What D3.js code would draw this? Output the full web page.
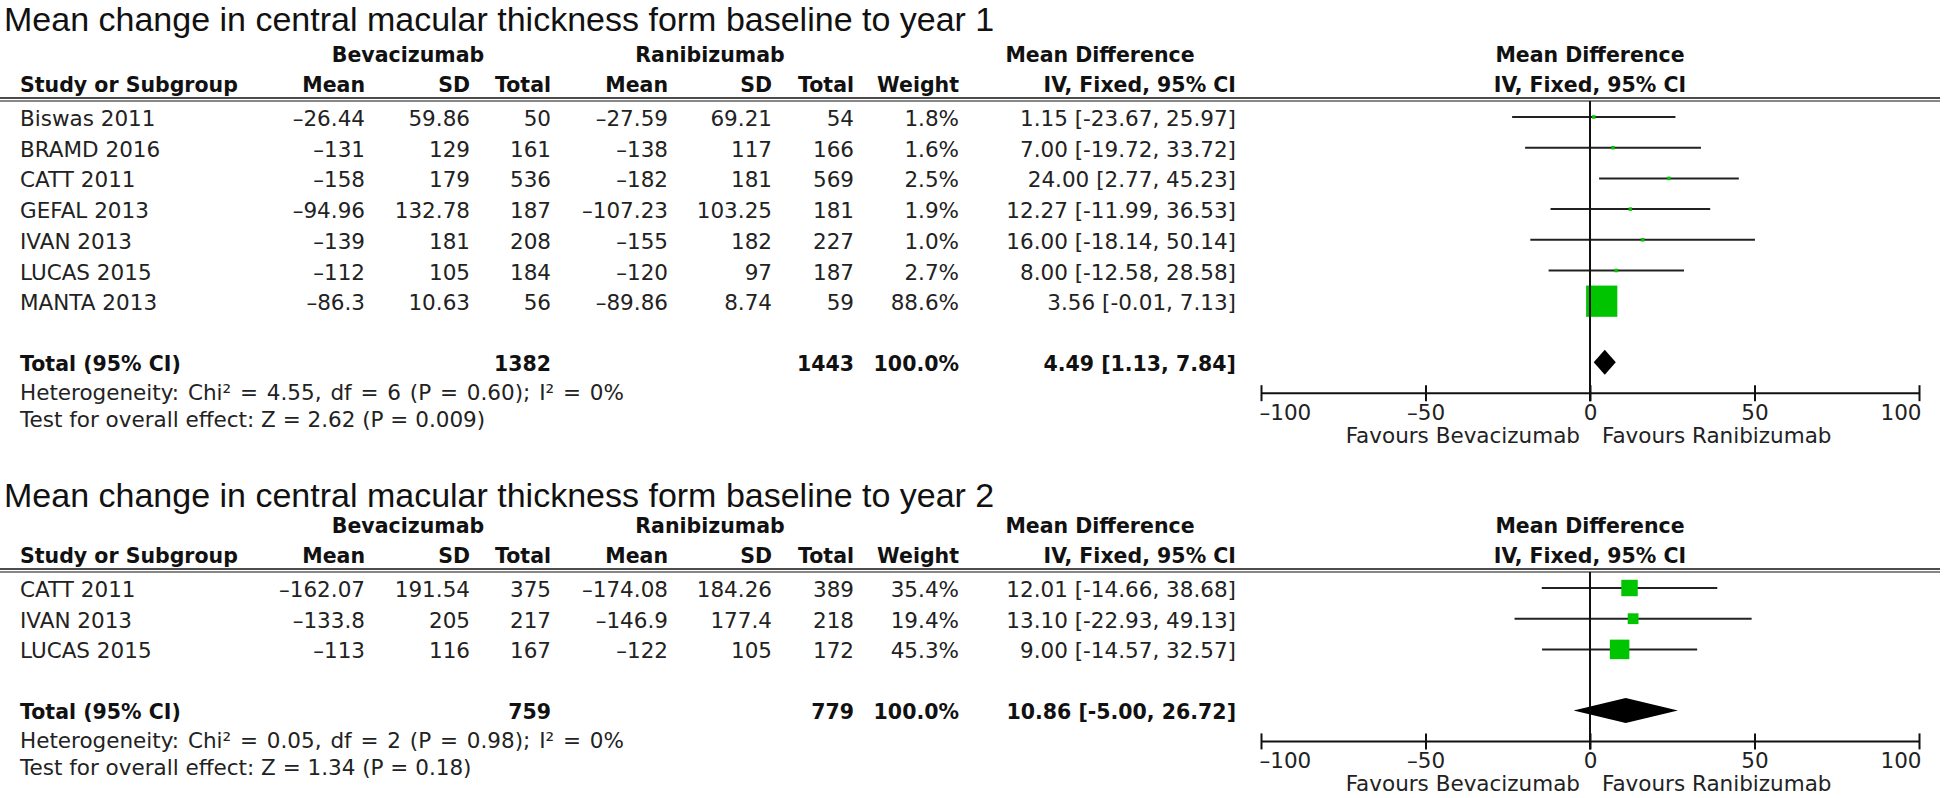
<!DOCTYPE html>
<html>
<head>
<meta charset="utf-8">
<script src="https://cdn.jsdelivr.net/npm/d3@7"></script>
<style>
  body { margin: 0; background: #fff; }
  svg text { font-family: 'DejaVu Sans', sans-serif; }
  .title { font-family: 'Liberation Sans', Arial, sans-serif; font-size: 34px; fill: #111; }
  .hd { font-weight: bold; font-size: 20.5px; fill: #111; }
  .cell { font-size: 21.5px; fill: #222; }
  .tot { font-weight: bold; font-size: 20.5px; fill: #111; }
</style>
</head>
<body>
<svg id="chart"></svg>
<script>
'use strict';

// year 1
const title1 = 'Mean change in central macular thickness form baseline to year 1';
const studies1 = ['Biswas 2011', 'BRAMD 2016', 'CATT 2011', 'GEFAL 2013', 'IVAN 2013', 'LUCAS 2015', 'MANTA 2013'];
const bevMean1 = [-26.44, -131, -158, -94.96, -139, -112, -86.3];
const bevSd1 = [59.86, 129, 179, 132.78, 181, 105, 10.63];
const bevN1 = [50, 161, 536, 187, 208, 184, 56];
const ranMean1 = [-27.59, -138, -182, -107.23, -155, -120, -89.86];
const ranSd1 = [69.21, 117, 181, 103.25, 182, 97, 8.74];
const ranN1 = [54, 166, 569, 181, 227, 187, 59];
const weight1 = [1.8, 1.6, 2.5, 1.9, 1.0, 2.7, 88.6];
const md1 = [1.15, 7.00, 24.00, 12.27, 16.00, 8.00, 3.56];
const lo1 = [-23.67, -19.72, 2.77, -11.99, -18.14, -12.58, -0.01];
const hi1 = [25.97, 33.72, 45.23, 36.53, 50.14, 28.58, 7.13];
const total1 = { bevN: 1382, ranN: 1443, md: 4.49, lo: 1.13, hi: 7.84 };
const het1 = 'Heterogeneity: Chi\u00b2 = 4.55, df = 6 (P = 0.60); I\u00b2 = 0%';
const test1 = 'Test for overall effect: Z = 2.62 (P = 0.009)';

// year 2
const title2 = 'Mean change in central macular thickness form baseline to year 2';
const studies2 = ['CATT 2011', 'IVAN 2013', 'LUCAS 2015'];
const bevMean2 = [-162.07, -133.8, -113];
const bevSd2 = [191.54, 205, 116];
const bevN2 = [375, 217, 167];
const ranMean2 = [-174.08, -146.9, -122];
const ranSd2 = [184.26, 177.4, 105];
const ranN2 = [389, 218, 172];
const weight2 = [35.4, 19.4, 45.3];
const md2 = [12.01, 13.10, 9.00];
const lo2 = [-14.66, -22.93, -14.57];
const hi2 = [38.68, 49.13, 32.57];
const total2 = { bevN: 759, ranN: 779, md: 10.86, lo: -5.00, hi: 26.72 };
const het2 = 'Heterogeneity: Chi\u00b2 = 0.05, df = 2 (P = 0.98); I\u00b2 = 0%';
const test2 = 'Test for overall effect: Z = 1.34 (P = 0.18)';

const axisTicks = [-100, -50, 0, 50, 100];

const W = 1946, H = 798;
const svg = d3.select('#chart').attr('width', W).attr('height', H);

const x = d3.scaleLinear().domain([-100, 100]).range([1261, 1919]);
const boxSize = d3.scalePow().exponent(0.7).domain([0, 100]).range([0, 34]);

const dash = v => String(v).replace('-', '\u2013');
const ciText = (m, l, h) => `${m.toFixed(2)} [${l.toFixed(2)}, ${h.toFixed(2)}]`;

const columns = [
  { key: 'bevMean', x: 365, head: 'Mean' },
  { key: 'bevSd', x: 470, head: 'SD' },
  { key: 'bevN', x: 551, head: 'Total' },
  { key: 'ranMean', x: 668, head: 'Mean' },
  { key: 'ranSd', x: 772, head: 'SD' },
  { key: 'ranN', x: 854, head: 'Total' },
  { key: 'weight', x: 959, head: 'Weight' },
  { key: 'ci', x: 1236, head: 'IV, Fixed, 95% CI' }
];

const groups = [
  { label: 'Bevacizumab', x: 408 },
  { label: 'Ranibizumab', x: 710 },
  { label: 'Mean Difference', x: 1100 },
  { label: 'Mean Difference', x: x(0) }
];

function makeRows(studies, bm, bs, bn, rm, rs, rn, w, md, lo, hi) {
  return studies.map((s, i) => ({
    study: s,
    bevMean: dash(bm[i]), bevSd: bs[i], bevN: bn[i],
    ranMean: dash(rm[i]), ranSd: rs[i], ranN: rn[i],
    weight: w[i].toFixed(1) + '%',
    ci: ciText(md[i], lo[i], hi[i]),
    w: w[i], md: md[i], lo: lo[i], hi: hi[i]
  }));
}

const panels = [
  { title: title1, titleY: 31, top: 26, rows: makeRows(studies1, bevMean1, bevSd1, bevN1, ranMean1, ranSd1, ranN1, weight1, md1, lo1, hi1), total: total1, het: het1, test: test1 },
  { title: title2, titleY: 507, top: 497, rows: makeRows(studies2, bevMean2, bevSd2, bevN2, ranMean2, ranSd2, ranN2, weight2, md2, lo2, hi2), total: total2, het: het2, test: test2 }
];

panels.forEach(drawPanel);

function drawPanel(p) {
  svg.append('text').attr('class', 'title').attr('x', 4).attr('y', p.titleY).text(p.title);

  const g = svg.append('g').attr('transform', `translate(0,${p.top})`);
  const rowY = i => 91 + i * 30.7;
  const totalY = rowY(p.rows.length - 1) + 61;
  const axisY = totalY + 31;

  // headers
  g.selectAll('.grp').data(groups).enter().append('text')
    .attr('class', 'hd').attr('x', d => d.x).attr('y', 36)
    .attr('text-anchor', 'middle').text(d => d.label);

  g.append('text').attr('class', 'hd').attr('x', 20).attr('y', 66).text('Study or Subgroup');
  g.selectAll('.colhd').data(columns).enter().append('text')
    .attr('class', 'hd').attr('x', d => d.x).attr('y', 66)
    .attr('text-anchor', 'end').text(d => d.head);
  g.append('text').attr('class', 'hd').attr('x', x(0)).attr('y', 66)
    .attr('text-anchor', 'middle').text('IV, Fixed, 95% CI');

  // double rule
  [72, 75].forEach(yy => {
    g.append('line').attr('x1', 0).attr('x2', 1940).attr('y1', yy).attr('y2', yy)
      .attr('stroke', '#111').attr('stroke-width', yy === 72 ? 1.6 : 1.2);
  });

  // study rows
  const row = g.selectAll('.row').data(p.rows).enter().append('g')
    .attr('transform', (d, i) => `translate(0,${rowY(i)})`);
  row.append('text').attr('class', 'cell').attr('x', 20).attr('y', 9).text(d => d.study);
  columns.forEach(c => {
    row.append('text').attr('class', 'cell').attr('x', c.x).attr('y', 9)
      .attr('text-anchor', 'end').text(d => d[c.key]);
  });

  // total row
  g.append('text').attr('class', 'tot').attr('x', 20).attr('y', totalY + 9).text('Total (95% CI)');
  const totVals = [
    { x: 551, t: p.total.bevN },
    { x: 854, t: p.total.ranN },
    { x: 959, t: '100.0%' },
    { x: 1236, t: ciText(p.total.md, p.total.lo, p.total.hi) }
  ];
  g.selectAll('.tv').data(totVals).enter().append('text')
    .attr('class', 'tot').attr('x', d => d.x).attr('y', totalY + 9)
    .attr('text-anchor', 'end').text(d => d.t);

  g.append('text').attr('class', 'cell').attr('x', 20).attr('y', totalY + 38)
    .attr('word-spacing', 2).text(p.het);
  g.append('text').attr('class', 'cell').attr('x', 20).attr('y', totalY + 65).text(p.test);

  // plot: zero line
  g.append('line').attr('x1', x(0)).attr('x2', x(0)).attr('y1', 75).attr('y2', axisY + 8)
    .attr('stroke', '#111').attr('stroke-width', 2);

  // CI whiskers and boxes
  row.append('line')
    .attr('x1', d => x(d.lo)).attr('x2', d => x(d.hi))
    .attr('stroke', '#222').attr('stroke-width', 2);
  row.append('rect')
    .attr('x', d => x(d.md) - Math.max(boxSize(d.w), 3.5) / 2)
    .attr('y', d => -Math.max(boxSize(d.w), 3.5) / 2)
    .attr('width', d => Math.max(boxSize(d.w), 3.5))
    .attr('height', d => Math.max(boxSize(d.w), 3.5))
    .attr('fill', '#00c400');

  // pooled diamond
  const t = p.total;
  g.append('path')
    .attr('d', `M${x(t.lo)},${totalY} L${x(t.md)},${totalY - 12.5} L${x(t.hi)},${totalY} L${x(t.md)},${totalY + 12.5} Z`)
    .attr('fill', '#000');

  // axis
  const ax = g.append('g').attr('transform', `translate(0,${axisY})`)
    .call(d3.axisBottom(x).tickValues(axisTicks).tickSize(8).tickPadding(10)
      .tickFormat(d => d < 0 ? '\u2013' + Math.abs(d) : d));
  ax.select('.domain').attr('stroke', '#111').attr('stroke-width', 2).attr('d', `M${x(-100)},0H${x(100)}`);
  ax.selectAll('.tick line').attr('y1', -8).attr('y2', 8).attr('stroke', '#111').attr('stroke-width', 2);
  ax.selectAll('.tick text')
    .attr('y', 27).attr('dy', null)
    .style('font-family', "'DejaVu Sans', sans-serif").style('font-size', '21.5px').attr('fill', '#222')
    .attr('text-anchor', d => d === -100 ? 'start' : d === 100 ? 'end' : 'middle')
    .attr('dx', d => d === -100 ? -2 : d === 100 ? 2 : 0);

  g.append('text').attr('class', 'cell').attr('x', x(0) - 10).attr('y', axisY + 50)
    .attr('text-anchor', 'end').text('Favours Bevacizumab');
  g.append('text').attr('class', 'cell').attr('x', x(0) + 12).attr('y', axisY + 50)
    .text('Favours Ranibizumab');
}
</script>
</body>
</html>
